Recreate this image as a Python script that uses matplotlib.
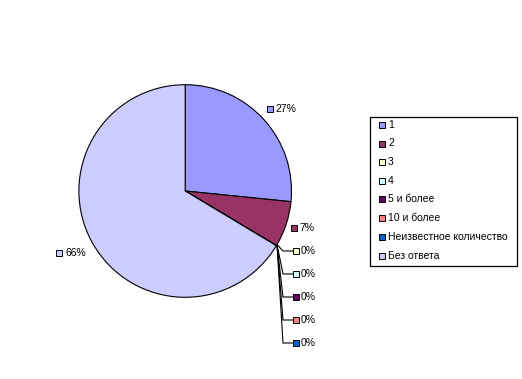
import matplotlib.pyplot as plt
from matplotlib.patches import Rectangle

# Данные
categories = ['1', '2', '3', '4', '5 и более', '10 и более',
              'Неизвестное количество', 'Без ответа']
shares = [26.6, 7.0, 0, 0, 0, 0, 0, 66.4]
colors = ['#9999FF', '#993366', '#FFFFCC', '#CCFFFF', '#660066',
          '#FF8080', '#0066CC', '#CCCCFF']

W, H = 522, 379
plt.rcParams['font.family'] = ['Liberation Sans', 'DejaVu Sans']

fig = plt.figure(figsize=(W / 100, H / 100), dpi=100)
ax = fig.add_axes([0, 0, 1, 1])
ax.set_xlim(0, W)
ax.set_ylim(0, H)
ax.axis('off')

def py(y):
    # пиксели сверху -> координаты снизу
    return H - y

# Круговая диаграмма
cx, cy, r = 185.2, 191, 106.3
wedges, _ = ax.pie(shares, colors=colors, startangle=90, counterclock=False,
                   center=(cx, py(cy)), radius=r, frame=True,
                   wedgeprops=dict(edgecolor='black', linewidth=0.8))
ax.set_xlim(0, W)
ax.set_ylim(0, H)
ax.set_aspect('auto')

fs = 7.5
sq = 6

def label(x, y, idx, align='left'):
    # квадратик цвета + подпись процента
    txt = f"{round(shares[idx])}%"
    if align == 'left':
        ax.add_patch(Rectangle((x, py(y) - sq / 2), sq, sq, facecolor=colors[idx],
                               edgecolor='black', linewidth=0.7))
        ax.text(x + sq + 2, py(y), txt, fontsize=fs, va='center', ha='left')
    else:
        ax.text(x, py(y), txt, fontsize=fs, va='center', ha='right')
        ax.add_patch(Rectangle((x - 24 - sq, py(y) - sq / 2), sq, sq,
                               facecolor=colors[idx], edgecolor='black', linewidth=0.7))

label(267, 108.5, 0)
label(291, 228, 1)
label(86, 252.5, 7, align='right')

# нулевые доли с выносками
apex = (277, 244.5)
zero_y = [251, 274, 297, 320, 343]
for i, yy in zip(range(2, 7), zero_y):
    ax.plot([apex[0], 283, 292.5], [py(apex[1]), py(yy), py(yy)],
            color='black', linewidth=0.8)
    label(292.5, yy, i)

# Легенда
ax.add_patch(Rectangle((370, py(266)), 147, 149, facecolor='white',
                       edgecolor='black', linewidth=0.9))
leg_y = [125, 143.5, 162, 180.5, 199, 218, 237, 256]
for c, name, yy in zip(colors, categories, leg_y):
    ax.add_patch(Rectangle((379, py(yy) - sq / 2), sq, sq, facecolor=c,
                           edgecolor='black', linewidth=0.7))
    ax.text(388, py(yy), name, fontsize=fs, va='center', ha='left')

fig.savefig('out.png', dpi=100)
